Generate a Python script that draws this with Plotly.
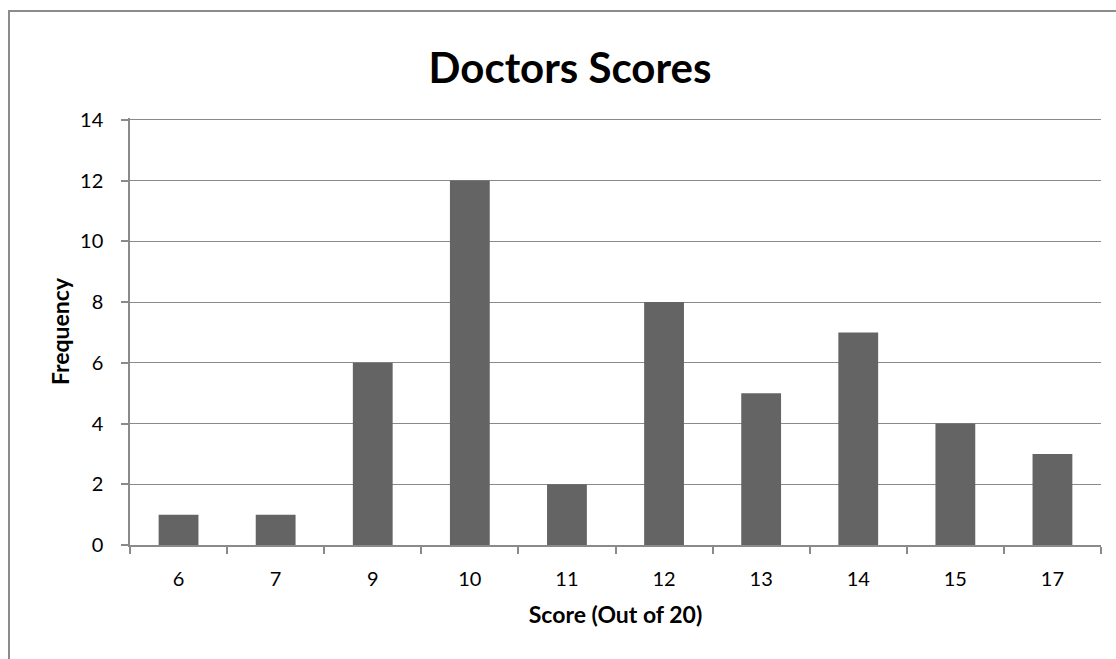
import plotly.graph_objects as go

# Frequency of each score
scores = ["6", "7", "9", "10", "11", "12", "13", "14", "15", "17"]
frequency = [1, 1, 6, 12, 2, 8, 5, 7, 4, 3]
y_ticks = [0, 2, 4, 6, 8, 10, 12, 14]

W, H = 1116, 659
L, R, T, B = 130, 15, 118, 114
pw, ph = W - L - R, H - T - B


def px_x(x):
    return (x - L) / pw


def px_y(y):
    return (H - B - y) / ph


font = "Lato, 'Open Sans', sans-serif"
grid = "#8a8a8a"

fig = go.Figure(
    go.Bar(
        x=scores,
        y=frequency,
        marker=dict(color="#646464", line=dict(width=0)),
        width=0.41,
    )
)

fig.update_layout(
    width=W,
    height=H,
    margin=dict(l=L, r=R, t=T, b=B),
    paper_bgcolor="white",
    plot_bgcolor="white",
    showlegend=False,
    font=dict(family=font, color="black", size=20),
    title=dict(
        text="<b>Doctors Scores</b>",
        x=px_x(570), xref="paper", xanchor="center",
        y=1 - 68 / H, yanchor="middle",
        font=dict(family=font, size=42, color="black"),
    ),
    shapes=[
        dict(
            type="rect", xref="paper", yref="paper",
            x0=px_x(9), x1=px_x(1125), y0=px_y(670), y1=px_y(11),
            line=dict(color="#8c8c8c", width=2), layer="below",
        )
    ],
)

fig.update_xaxes(
    type="category",
    showline=True, linecolor=grid, linewidth=1.5,
    ticks="outside", tickson="boundaries", ticklen=7, tickcolor=grid, tickwidth=1.5,
    showgrid=False,
    tickfont=dict(size=20),
    ticklabelstandoff=15,
    title=dict(text="<b>Score (Out of 20)</b>", font=dict(size=23), standoff=18),
)

fig.update_yaxes(
    range=[0, 14.06],
    tickvals=y_ticks,
    showline=True, linecolor=grid, linewidth=1.5,
    ticks="outside", ticklen=7, tickcolor=grid, tickwidth=1.5,
    showgrid=True, gridcolor=grid, gridwidth=1.3,
    zeroline=False,
    tickfont=dict(size=20),
    ticklabelstandoff=14,
    title=dict(text="<b>Frequency</b>", font=dict(size=23), standoff=4),
)

fig.write_html("out.html")
